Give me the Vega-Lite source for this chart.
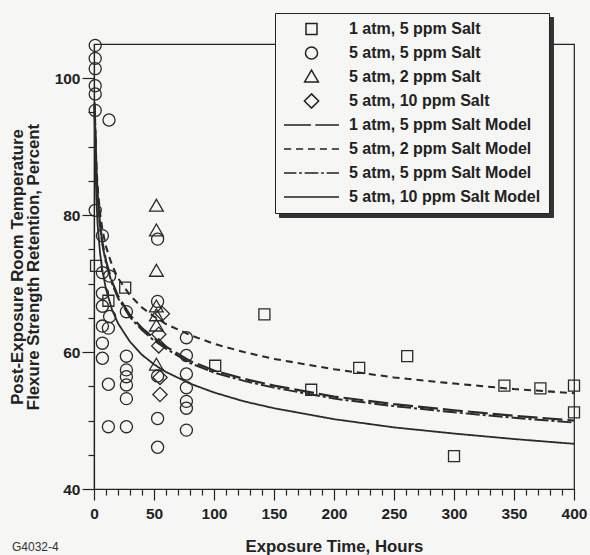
{
  "$schema": "https://vega.github.io/schema/vega-lite/v6.json",
  "width": 480,
  "height": 445,
  "autosize": {"type": "none"},
  "padding": {"left": 94, "top": 44, "right": 16, "bottom": 66},
  "background": "#f6f6f4",
  "title": {"text": "G4032-4", "orient": "bottom", "anchor": "start", "frame": "group", "dx": -82, "offset": -13, "fontSize": 12, "font": "Liberation Sans", "fontWeight": "normal", "color": "#333333"},
  "config": {
    "view": {"stroke": "#222222", "strokeWidth": 1.2},
    "axis": {"domainColor": "#222222", "tickColor": "#222222", "domainWidth": 1.2, "tickWidth": 1.2, "grid": false, "labelFont": "Liberation Sans", "labelFontWeight": "bold", "labelFontSize": 15.5, "labelColor": "#222222", "titleFont": "Liberation Sans", "titleFontWeight": "bold", "titleFontSize": 16.8, "titleColor": "#222222"}
  },
  "datasets": {
    "obs": [
      {"series": "1 atm, 5 ppm Salt", "t": 1.7, "v": 72.6},
      {"series": "1 atm, 5 ppm Salt", "t": 12, "v": 67.5},
      {"series": "1 atm, 5 ppm Salt", "t": 26, "v": 69.4},
      {"series": "1 atm, 5 ppm Salt", "t": 101, "v": 58.0},
      {"series": "1 atm, 5 ppm Salt", "t": 142, "v": 65.5},
      {"series": "1 atm, 5 ppm Salt", "t": 181, "v": 54.5},
      {"series": "1 atm, 5 ppm Salt", "t": 221, "v": 57.7},
      {"series": "1 atm, 5 ppm Salt", "t": 261, "v": 59.4},
      {"series": "1 atm, 5 ppm Salt", "t": 300, "v": 44.8},
      {"series": "1 atm, 5 ppm Salt", "t": 342, "v": 55.1},
      {"series": "1 atm, 5 ppm Salt", "t": 372, "v": 54.7},
      {"series": "1 atm, 5 ppm Salt", "t": 400, "v": 55.1},
      {"series": "1 atm, 5 ppm Salt", "t": 400, "v": 51.2},
      {"series": "5 atm, 5 ppm Salt", "t": 1, "v": 104.8},
      {"series": "5 atm, 5 ppm Salt", "t": 1, "v": 102.9},
      {"series": "5 atm, 5 ppm Salt", "t": 1, "v": 101.4},
      {"series": "5 atm, 5 ppm Salt", "t": 1, "v": 98.9},
      {"series": "5 atm, 5 ppm Salt", "t": 1, "v": 97.7},
      {"series": "5 atm, 5 ppm Salt", "t": 1, "v": 95.3},
      {"series": "5 atm, 5 ppm Salt", "t": 12.5, "v": 93.9},
      {"series": "5 atm, 5 ppm Salt", "t": 1, "v": 80.7},
      {"series": "5 atm, 5 ppm Salt", "t": 7, "v": 77.0},
      {"series": "5 atm, 5 ppm Salt", "t": 7, "v": 71.6},
      {"series": "5 atm, 5 ppm Salt", "t": 7, "v": 68.6},
      {"series": "5 atm, 5 ppm Salt", "t": 7, "v": 66.7},
      {"series": "5 atm, 5 ppm Salt", "t": 7, "v": 63.8},
      {"series": "5 atm, 5 ppm Salt", "t": 7, "v": 61.3},
      {"series": "5 atm, 5 ppm Salt", "t": 7, "v": 59.1},
      {"series": "5 atm, 5 ppm Salt", "t": 13, "v": 71.1},
      {"series": "5 atm, 5 ppm Salt", "t": 13, "v": 65.2},
      {"series": "5 atm, 5 ppm Salt", "t": 12, "v": 63.5},
      {"series": "5 atm, 5 ppm Salt", "t": 12, "v": 55.3},
      {"series": "5 atm, 5 ppm Salt", "t": 12, "v": 49.1},
      {"series": "5 atm, 5 ppm Salt", "t": 27, "v": 65.9},
      {"series": "5 atm, 5 ppm Salt", "t": 27, "v": 59.4},
      {"series": "5 atm, 5 ppm Salt", "t": 27, "v": 57.4},
      {"series": "5 atm, 5 ppm Salt", "t": 27, "v": 56.4},
      {"series": "5 atm, 5 ppm Salt", "t": 27, "v": 55.2},
      {"series": "5 atm, 5 ppm Salt", "t": 27, "v": 53.2},
      {"series": "5 atm, 5 ppm Salt", "t": 27, "v": 49.1},
      {"series": "5 atm, 5 ppm Salt", "t": 53, "v": 76.5},
      {"series": "5 atm, 5 ppm Salt", "t": 53, "v": 67.4},
      {"series": "5 atm, 5 ppm Salt", "t": 53, "v": 56.5},
      {"series": "5 atm, 5 ppm Salt", "t": 53, "v": 50.3},
      {"series": "5 atm, 5 ppm Salt", "t": 53, "v": 46.1},
      {"series": "5 atm, 5 ppm Salt", "t": 77, "v": 62.1},
      {"series": "5 atm, 5 ppm Salt", "t": 77, "v": 59.5},
      {"series": "5 atm, 5 ppm Salt", "t": 77, "v": 56.8},
      {"series": "5 atm, 5 ppm Salt", "t": 77, "v": 54.8},
      {"series": "5 atm, 5 ppm Salt", "t": 77, "v": 52.8},
      {"series": "5 atm, 5 ppm Salt", "t": 77, "v": 51.8},
      {"series": "5 atm, 5 ppm Salt", "t": 77, "v": 48.6},
      {"series": "5 atm, 2 ppm Salt", "t": 52, "v": 81.3},
      {"series": "5 atm, 2 ppm Salt", "t": 52, "v": 77.7},
      {"series": "5 atm, 2 ppm Salt", "t": 52, "v": 71.8},
      {"series": "5 atm, 2 ppm Salt", "t": 52, "v": 66.6},
      {"series": "5 atm, 2 ppm Salt", "t": 52, "v": 65.3},
      {"series": "5 atm, 2 ppm Salt", "t": 52, "v": 63.8},
      {"series": "5 atm, 2 ppm Salt", "t": 52, "v": 58.1},
      {"series": "5 atm, 10 ppm Salt", "t": 57, "v": 65.6},
      {"series": "5 atm, 10 ppm Salt", "t": 54, "v": 62.6},
      {"series": "5 atm, 10 ppm Salt", "t": 54, "v": 60.9},
      {"series": "5 atm, 10 ppm Salt", "t": 55, "v": 56.3},
      {"series": "5 atm, 10 ppm Salt", "t": 55, "v": 53.8}
    ],
    "model": [
      {"series": "5 atm, 2 ppm Salt Model", "t": 0.5, "v": 96.5},
      {"series": "5 atm, 2 ppm Salt Model", "t": 1, "v": 92.9},
      {"series": "5 atm, 2 ppm Salt Model", "t": 2, "v": 87.2},
      {"series": "5 atm, 2 ppm Salt Model", "t": 3, "v": 84.1},
      {"series": "5 atm, 2 ppm Salt Model", "t": 5, "v": 80.3},
      {"series": "5 atm, 2 ppm Salt Model", "t": 7, "v": 77.9},
      {"series": "5 atm, 2 ppm Salt Model", "t": 10, "v": 75.4},
      {"series": "5 atm, 2 ppm Salt Model", "t": 15, "v": 72.7},
      {"series": "5 atm, 2 ppm Salt Model", "t": 20, "v": 70.8},
      {"series": "5 atm, 2 ppm Salt Model", "t": 30, "v": 68.3},
      {"series": "5 atm, 2 ppm Salt Model", "t": 40, "v": 66.5},
      {"series": "5 atm, 2 ppm Salt Model", "t": 50, "v": 65.2},
      {"series": "5 atm, 2 ppm Salt Model", "t": 60, "v": 64.1},
      {"series": "5 atm, 2 ppm Salt Model", "t": 80, "v": 62.5},
      {"series": "5 atm, 2 ppm Salt Model", "t": 100, "v": 61.2},
      {"series": "5 atm, 2 ppm Salt Model", "t": 125, "v": 60.0},
      {"series": "5 atm, 2 ppm Salt Model", "t": 150, "v": 59.0},
      {"series": "5 atm, 2 ppm Salt Model", "t": 200, "v": 57.5},
      {"series": "5 atm, 2 ppm Salt Model", "t": 250, "v": 56.3},
      {"series": "5 atm, 2 ppm Salt Model", "t": 300, "v": 55.4},
      {"series": "5 atm, 2 ppm Salt Model", "t": 350, "v": 54.6},
      {"series": "5 atm, 2 ppm Salt Model", "t": 400, "v": 54.0},
      {"series": "5 atm, 5 ppm Salt Model", "t": 0.5, "v": 96.0},
      {"series": "5 atm, 5 ppm Salt Model", "t": 1, "v": 92.7},
      {"series": "5 atm, 5 ppm Salt Model", "t": 2, "v": 86.2},
      {"series": "5 atm, 5 ppm Salt Model", "t": 3, "v": 82.7},
      {"series": "5 atm, 5 ppm Salt Model", "t": 5, "v": 78.4},
      {"series": "5 atm, 5 ppm Salt Model", "t": 7, "v": 75.7},
      {"series": "5 atm, 5 ppm Salt Model", "t": 10, "v": 73.0},
      {"series": "5 atm, 5 ppm Salt Model", "t": 15, "v": 70.0},
      {"series": "5 atm, 5 ppm Salt Model", "t": 20, "v": 67.9},
      {"series": "5 atm, 5 ppm Salt Model", "t": 30, "v": 65.1},
      {"series": "5 atm, 5 ppm Salt Model", "t": 40, "v": 63.2},
      {"series": "5 atm, 5 ppm Salt Model", "t": 50, "v": 61.7},
      {"series": "5 atm, 5 ppm Salt Model", "t": 60, "v": 60.5},
      {"series": "5 atm, 5 ppm Salt Model", "t": 80, "v": 58.4},
      {"series": "5 atm, 5 ppm Salt Model", "t": 100, "v": 57.0},
      {"series": "5 atm, 5 ppm Salt Model", "t": 125, "v": 55.8},
      {"series": "5 atm, 5 ppm Salt Model", "t": 150, "v": 54.8},
      {"series": "5 atm, 5 ppm Salt Model", "t": 200, "v": 53.2},
      {"series": "5 atm, 5 ppm Salt Model", "t": 250, "v": 52.1},
      {"series": "5 atm, 5 ppm Salt Model", "t": 300, "v": 51.2},
      {"series": "5 atm, 5 ppm Salt Model", "t": 350, "v": 50.4},
      {"series": "5 atm, 5 ppm Salt Model", "t": 400, "v": 49.7},
      {"series": "1 atm, 5 ppm Salt Model", "t": 0.5, "v": 96.0},
      {"series": "1 atm, 5 ppm Salt Model", "t": 1, "v": 92.9},
      {"series": "1 atm, 5 ppm Salt Model", "t": 2, "v": 86.5},
      {"series": "1 atm, 5 ppm Salt Model", "t": 3, "v": 83.0},
      {"series": "1 atm, 5 ppm Salt Model", "t": 5, "v": 78.7},
      {"series": "1 atm, 5 ppm Salt Model", "t": 7, "v": 76.0},
      {"series": "1 atm, 5 ppm Salt Model", "t": 10, "v": 73.3},
      {"series": "1 atm, 5 ppm Salt Model", "t": 15, "v": 70.3},
      {"series": "1 atm, 5 ppm Salt Model", "t": 20, "v": 68.2},
      {"series": "1 atm, 5 ppm Salt Model", "t": 30, "v": 65.4},
      {"series": "1 atm, 5 ppm Salt Model", "t": 40, "v": 63.5},
      {"series": "1 atm, 5 ppm Salt Model", "t": 50, "v": 62.0},
      {"series": "1 atm, 5 ppm Salt Model", "t": 60, "v": 60.8},
      {"series": "1 atm, 5 ppm Salt Model", "t": 80, "v": 58.7},
      {"series": "1 atm, 5 ppm Salt Model", "t": 100, "v": 57.3},
      {"series": "1 atm, 5 ppm Salt Model", "t": 125, "v": 56.1},
      {"series": "1 atm, 5 ppm Salt Model", "t": 150, "v": 55.1},
      {"series": "1 atm, 5 ppm Salt Model", "t": 200, "v": 53.5},
      {"series": "1 atm, 5 ppm Salt Model", "t": 250, "v": 52.4},
      {"series": "1 atm, 5 ppm Salt Model", "t": 300, "v": 51.5},
      {"series": "1 atm, 5 ppm Salt Model", "t": 350, "v": 50.7},
      {"series": "1 atm, 5 ppm Salt Model", "t": 400, "v": 50.0},
      {"series": "5 atm, 10 ppm Salt Model", "t": 0.5, "v": 95.3},
      {"series": "5 atm, 10 ppm Salt Model", "t": 1, "v": 88.5},
      {"series": "5 atm, 10 ppm Salt Model", "t": 2, "v": 82.2},
      {"series": "5 atm, 10 ppm Salt Model", "t": 3, "v": 78.7},
      {"series": "5 atm, 10 ppm Salt Model", "t": 5, "v": 74.5},
      {"series": "5 atm, 10 ppm Salt Model", "t": 7, "v": 71.9},
      {"series": "5 atm, 10 ppm Salt Model", "t": 10, "v": 69.2},
      {"series": "5 atm, 10 ppm Salt Model", "t": 15, "v": 66.2},
      {"series": "5 atm, 10 ppm Salt Model", "t": 20, "v": 64.2},
      {"series": "5 atm, 10 ppm Salt Model", "t": 30, "v": 61.5},
      {"series": "5 atm, 10 ppm Salt Model", "t": 40, "v": 59.6},
      {"series": "5 atm, 10 ppm Salt Model", "t": 50, "v": 58.2},
      {"series": "5 atm, 10 ppm Salt Model", "t": 60, "v": 57.1},
      {"series": "5 atm, 10 ppm Salt Model", "t": 80, "v": 55.4},
      {"series": "5 atm, 10 ppm Salt Model", "t": 100, "v": 54.1},
      {"series": "5 atm, 10 ppm Salt Model", "t": 125, "v": 52.8},
      {"series": "5 atm, 10 ppm Salt Model", "t": 150, "v": 51.8},
      {"series": "5 atm, 10 ppm Salt Model", "t": 200, "v": 50.2},
      {"series": "5 atm, 10 ppm Salt Model", "t": 250, "v": 49.0},
      {"series": "5 atm, 10 ppm Salt Model", "t": 300, "v": 48.1},
      {"series": "5 atm, 10 ppm Salt Model", "t": 350, "v": 47.3},
      {"series": "5 atm, 10 ppm Salt Model", "t": 400, "v": 46.6}
    ]
  },
  "encoding": {
    "x": {"field": "t", "type": "quantitative", "scale": {"domain": [0, 400], "nice": false, "zero": false},
      "axis": {"title": "Exposure Time, Hours", "values": [0,10,20,30,40,50,60,70,80,90,100,110,120,130,140,150,160,170,180,190,200,210,220,230,240,250,260,270,280,290,300,310,320,330,340,350,360,370,380,390,400],
        "labelExpr": "datum.value % 50 === 0 ? datum.label : ''",
        "tickSize": {"condition": {"test": "datum.value % 50 === 0", "value": 11}, "value": 6},
        "labelPadding": 6, "titlePadding": 17, "labelOverlap": false, "labelFlush": false}},
    "y": {"field": "v", "type": "quantitative", "scale": {"domain": [40, 105], "nice": false, "zero": false},
      "axis": {"title": ["Post-Exposure Room Temperature", "Flexure Strength Retention, Percent"], "titleLineHeight": 16,
        "values": [40,45,50,55,60,65,70,75,80,85,90,95,100],
        "labelExpr": "datum.value % 20 === 0 ? datum.label : ''",
        "tickSize": {"condition": {"test": "datum.value % 20 === 0", "value": 12}, "value": 6},
        "labelPadding": 2, "titlePadding": 12, "labelOverlap": false, "labelFlush": false}}
  },
  "layer": [
    {
      "data": {"name": "model"},
      "mark": {"type": "line", "color": "#2a2a2a"},
      "encoding": {
        "strokeWidth": {"field": "series", "type": "nominal", "legend": null,
          "scale": {"domain": ["5 atm, 10 ppm Salt Model", "5 atm, 5 ppm Salt Model", "5 atm, 2 ppm Salt Model", "1 atm, 5 ppm Salt Model"], "range": [1.8, 2.2, 2.6, 2.2]}},
        "strokeDash": {"field": "series", "type": "nominal",
          "scale": {"domain": ["5 atm, 10 ppm Salt Model", "5 atm, 5 ppm Salt Model", "5 atm, 2 ppm Salt Model", "1 atm, 5 ppm Salt Model", "5 atm, 10 ppm Salt", "5 atm, 2 ppm Salt", "5 atm, 5 ppm Salt", "1 atm, 5 ppm Salt"],
            "range": [[1, 0], [14, 3, 3, 3], [7, 5], [20, 5], [1, 0], [1, 0], [1, 0], [1, 0]]},
          "legend": {"title": null, "orient": "none", "legendX": 185, "legendY": -27, "padding": 8, "labelOffset": 0, "clipHeight": 16, "rowPadding": 8,
            "labelExpr": "''", "labelFontSize": 16,
            "symbolType": "M-1,-0.0625H1V0.0625H-1Z", "symbolSize": 65536, "symbolStrokeWidth": 1.5, "symbolOpacity": 0,
            "fillColor": "#333333", "strokeColor": "#333333", "zindex": 0}}
      }
    },
    {
      "data": {"name": "obs"},
      "mark": {"type": "point", "filled": false, "size": 3025, "strokeWidth": 1.3, "color": "#2a2a2a", "opacity": 1},
      "encoding": {
        "shape": {"field": "series", "type": "nominal",
          "scale": {"domain": ["1 atm, 5 ppm Salt", "5 atm, 5 ppm Salt", "5 atm, 2 ppm Salt", "5 atm, 10 ppm Salt", "1 atm, 5 ppm Salt Model", "5 atm, 2 ppm Salt Model", "5 atm, 5 ppm Salt Model", "5 atm, 10 ppm Salt Model"],
            "range": ["M-0.2,-0.2H0.2V0.2H-0.2Z", "M0.22,0A0.22,0.22,0,1,1,-0.22,0A0.22,0.22,0,1,1,0.22,0Z", "M0,-0.25L0.25,0.18L-0.25,0.18Z", "M0,-0.26L0.26,0L0,0.26L-0.26,0Z", "M-1,0H-0.02M0.14,0H1", "M-1,0H-0.74M-0.565,0H-0.305M-0.13,0H0.13M0.305,0H0.565M0.74,0H1", "M-1,0H-0.55M-0.45,0H-0.35M-0.25,0H0.25M0.35,0H0.45M0.55,0H1", "M-1,0H1"]},
          "legend": {"title": null, "orient": "none", "legendX": 181, "legendY": -31, "padding": 8, "labelOffset": 9, "clipHeight": 16, "rowPadding": 8,
            "labelFont": "Liberation Sans", "labelFontWeight": "bold", "labelFontSize": 16, "labelColor": "#222222", "labelLimit": 400,
            "symbolSize": 3025, "symbolStrokeWidth": 1.5, "symbolStrokeColor": "#222222",
            "fillColor": "#f6f6f4", "strokeColor": "#222222", "zindex": 1}}
      }
    }
  ]
}
